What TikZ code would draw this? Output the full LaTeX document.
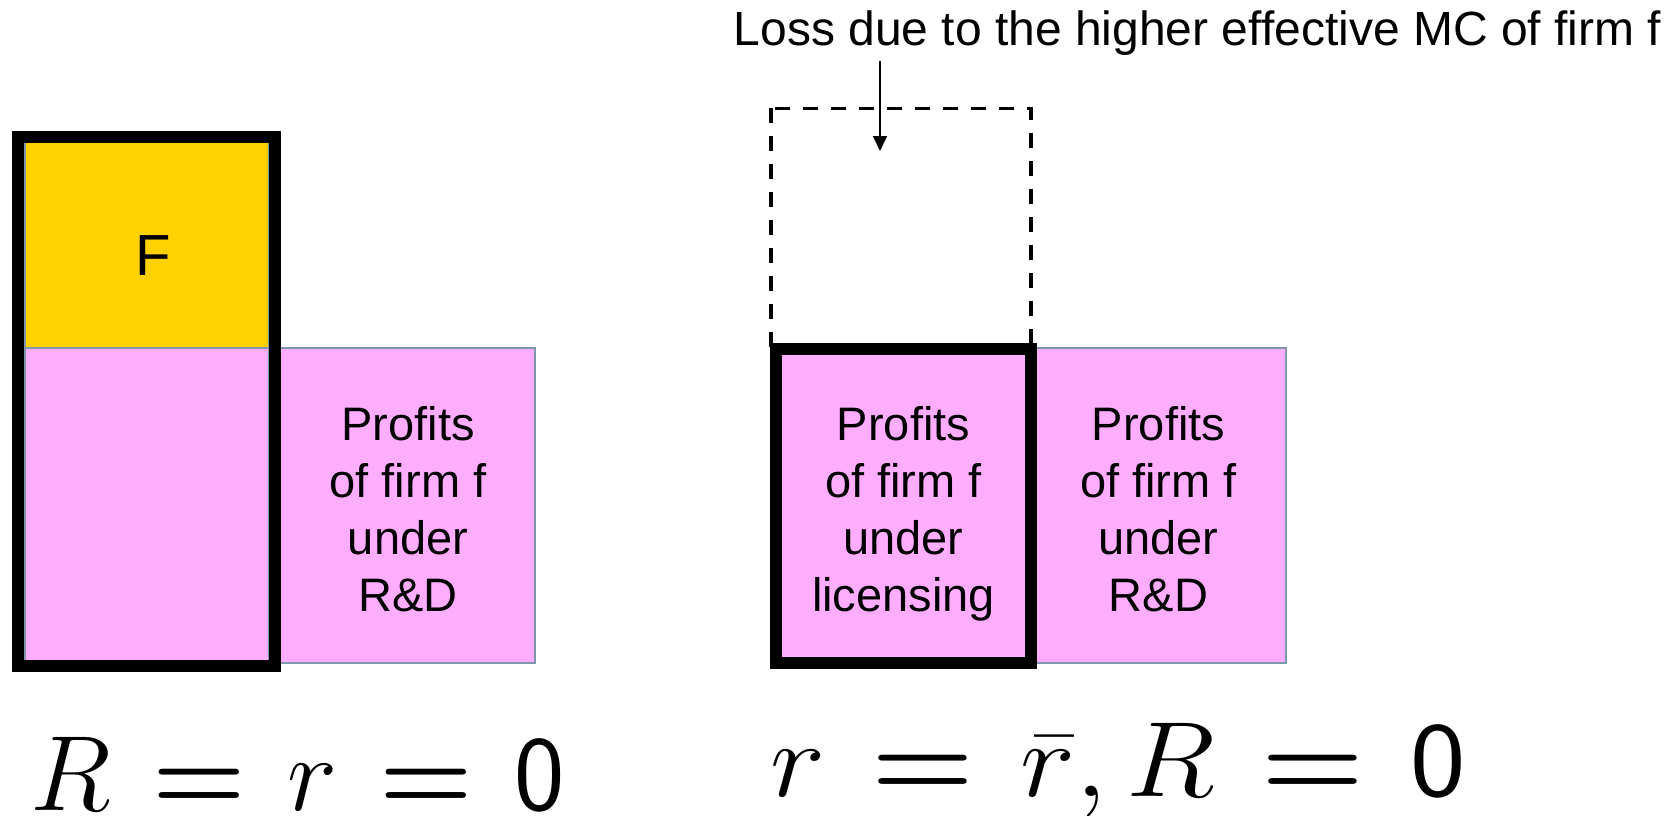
\RequirePackage{fix-cm}
\documentclass[tikz,border=0pt]{standalone}
\usepackage{fontspec}
\setmainfont{Liberation Sans}
\usetikzlibrary{arrows.meta}
\definecolor{goldfill}{HTML}{FFD100}
\definecolor{pinkfill}{HTML}{FFADFF}
\definecolor{edgegray}{HTML}{7F97AE}
% heavy equals sign and sans zero used in the two conditions
\newcommand{\heq}{\mathrel{\hbox{\boldmath$=$}}}
\newcommand{\szero}{\mathsf{0}}
\thickmuskip=7mu plus 0mu minus 0mu\relax
\begin{document}
\begin{tikzpicture}[x=1pt,y=-1pt,
  plate/.style={draw=edgegray,line width=1.5pt},
  heavyframe/.style={draw=black,line width=12pt},
  ghostframe/.style={draw=black,line width=3.3pt,dash pattern=on 15pt off 13pt},
  boxtext/.style={font=\fontsize{47}{57}\selectfont,align=center,inner sep=0pt,text depth=0pt},
  formula/.style={font=\fontsize{107}{120}\selectfont,anchor=base,inner sep=0pt}]
\useasboundingbox (0,0) rectangle (1675,815);

% ---- left panel: no licensing, R = r = 0 ----
\filldraw[plate,fill=goldfill] (25,142) rectangle (269,348);
\filldraw[plate,fill=pinkfill] (25,348) rectangle (269,665);
\filldraw[plate,fill=pinkfill] (275,348) rectangle (535,663);
\draw[heavyframe] (18,136.5) rectangle (274.5,665.5);
\node[font=\fontsize{58}{62}\selectfont,inner sep=0pt] (fixcost) at (153,256) {F};
\node[boxtext] (rdleft) at (408,509) {Profits\\of firm f\\under\\R\&D};
\node[formula] (eqleft) at (297.5,810) {$R\heq r\heq\szero$};

% ---- right panel: licensing at rate r-bar ----
\draw[ghostframe] (771,108.3) rectangle (1031,348);
\filldraw[plate,fill=pinkfill] (1031,348) rectangle (1286,663);
\fill[pinkfill] (776,348.5) rectangle (1031,663);
\draw[heavyframe] (776,348.5) rectangle (1031,663);
\node[boxtext] (lic) at (903.5,509) {Profits\\of firm f\\under\\licensing};
\node[boxtext] (rdright) at (1158.5,509) {Profits\\of firm f\\under\\R\&D};
\node[formula] (eqright) at (1118,796) {\scalebox{1.1}[1]{$r\heq\bar{r},R\heq\szero$}};

% ---- annotation of the lost area ----
\node[font=\fontsize{48}{55}\selectfont,inner sep=0pt,anchor=base] (loss) at (1197.5,45)
  {Loss due to the higher effective MC of firm f};
\coordinate (losstip) at (880,151);
\draw[line width=1.6pt,-{Triangle[length=15pt,width=14pt]},shorten <=6pt]
  (loss.south -| losstip) -- (losstip);
\end{tikzpicture}
\end{document}
